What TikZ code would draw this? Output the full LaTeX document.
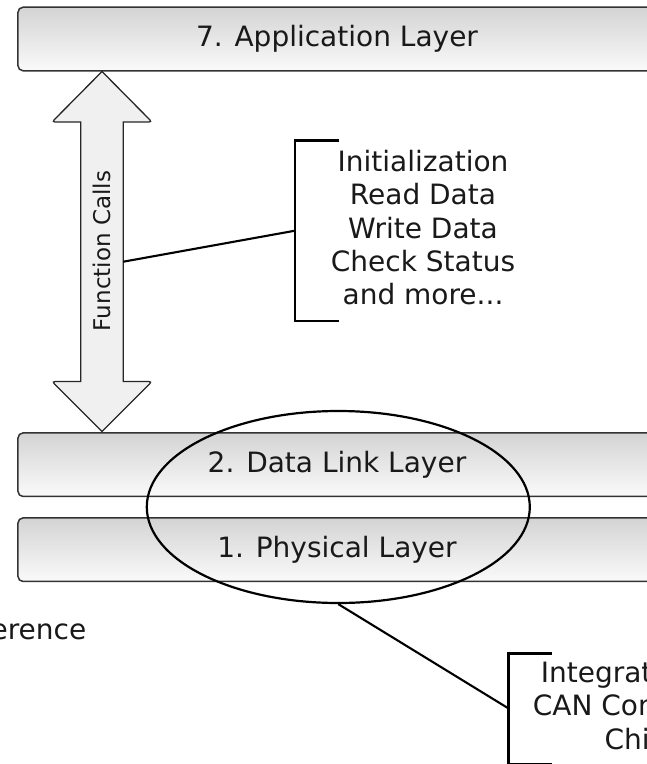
\documentclass[tikz,border=0pt]{standalone}
\usepackage{fontspec}
\setmainfont{DejaVu Sans}
\usetikzlibrary{shapes.geometric}
\begin{document}
\begin{tikzpicture}[x=1bp,y=-1bp,
  bigtxt/.style={font=\fontsize{28.1pt}{33.4pt}\selectfont, text=black!90},
  layer/.style={bigtxt, draw=black!80, line width=1.5bp, rounded corners=5bp,
    top color=black!17, bottom color=black!2, minimum width=638bp,
    minimum height=63.5bp, inner sep=0pt},
  arrowshape/.style={draw=black!85, line width=1.3bp, fill=black!6, line join=miter},
  conn/.style={draw=black, line width=2.1bp},
  bracketline/.style={draw=black, line width=2.7bp},
  ringstyle/.style={draw=black, line width=2.2bp, ellipse, inner sep=0pt,
    minimum width=383bp, minimum height=192bp}]
\clip (0,0) rectangle (647,764);
\fill[white] (0,0) rectangle (647,764);

% layers
\node[layer] (app) at (337,39) {7. Application Layer};
\node[layer] (dll) at (337,464.7) {2. Data Link Layer};
\node[layer] (phy) at (337,549.7) {1. Physical Layer};

% double arrow "Function Calls"
\draw[arrowshape] (102,71.5) [rounded corners=3bp] -- (152,122) [sharp corners] -- (123.3,122)
  -- (123.3,381.5) [rounded corners=3bp] -- (152,381.5) [sharp corners] -- (102,431.5)
  [rounded corners=3bp] -- (52,381.5) [sharp corners] -- (80.7,381.5) -- (80.7,122)
  [rounded corners=3bp] -- (52,122) [sharp corners] -- cycle;
\node[rotate=90, font=\fontsize{23.1pt}{27pt}\selectfont, text=black!90, inner sep=0pt] (fc) at (102,251) {Function Calls};

% bracket 1 and its list
\coordinate (b1t) at (339.3,140.7);
\coordinate (b1tl) at (295,140.7);
\coordinate (b1bl) at (295,321);
\coordinate (b1b) at (339.3,321);
\coordinate (b1m) at (295,230.7);
\coordinate (fcR) at (123.3,261.7);
\draw[bracketline] (b1t) -- (b1tl) -- (b1bl) -- (b1b);
\draw[conn] (fcR) -- (b1m);
\node[bigtxt, align=center, anchor=north, inner sep=0pt] (list1) at (423,150.2)
  {Initialization\\Read Data\\Write Data\\Check Status\\and more...};

% ellipse around layers 1 and 2
\node[ringstyle] (ring) at (338.3,507) {};

% bracket 2 and its list
\coordinate (b2t) at (551.7,653.3);
\coordinate (b2tl) at (508.3,653.3);
\coordinate (b2bl) at (508.3,764.6);
\coordinate (b2b) at (551.7,764.6);
\coordinate (b2m) at (508.3,708.3);
\draw[bracketline] (b2t) -- (b2tl) -- (b2bl) -- (b2b);
\draw[conn] (ring.south) -- (b2m);
\node[bigtxt, align=center, anchor=north, inner sep=0pt] (list2) at (636,661)
  {Integrated on\\CAN Controller\\Chip};

% cut-off label at the left
\node[bigtxt, anchor=base east, inner sep=0pt] (ref) at (86.5,639.3) {erence};
\end{tikzpicture}
\end{document}
